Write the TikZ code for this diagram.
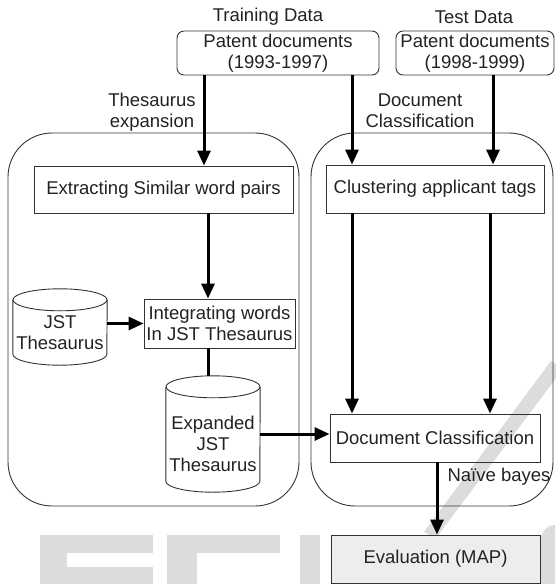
\documentclass[tikz,border=0pt]{standalone}
\usepackage{fontspec}
\setmainfont{Liberation Sans}
\usetikzlibrary{arrows.meta,calc}
\definecolor{ink}{HTML}{222222}
\definecolor{frame}{HTML}{333333}
\definecolor{wmgray}{HTML}{DCDCDC}
\definecolor{evalfill}{HTML}{EDEDED}

% cylinder drawn round an invisible node of the cylinder's size
\newcommand\drum[1]{%
  \draw[thinline] ($(#1.north west)+(0,11)$) -- ($(#1.south west)+(0,-11)$)
    arc[start angle=180,end angle=360,x radius=47pt,y radius=11pt]
    -- ($(#1.north east)+(0,11)$);
  \draw[thinline] ($(#1.north)+(0,11)$) ellipse[x radius=47pt,y radius=11pt];}

\begin{document}
\begin{tikzpicture}[x=1pt,y=-1pt,
  thinline/.style={draw=frame,line width=0.9pt},
  txt/.style={font=\fontsize{18.5}{21}\selectfont,text=ink,align=center,inner sep=0pt},
  box/.style={txt,thinline,minimum height=48pt},
  group/.style={thinline,rounded corners=44pt},
  slot/.style={minimum width=94pt,inner sep=0pt},
  flow/.style={line width=3pt,-{Triangle[length=15pt,width=13pt]}},
  plain/.style={line width=3pt}]
\useasboundingbox (0,0) rectangle (555,584);

% faint background lettering
\fill[wmgray] (40,535) rectangle (153,553);
\fill[wmgray] (40,553) rectangle (67,567);
\fill[wmgray] (40,567) rectangle (153,584);
\fill[wmgray] (167,535) rectangle (280,553);
\fill[wmgray] (167,553) rectangle (197,584);
\fill[wmgray] (300,535) rectangle (320,584);
\fill[wmgray] (541,584) -- (541,540) to[out=90,in=180] (555,525) -- (555,584) -- cycle;
\fill[wmgray] (551,361) -- (563,369) -- (436,538) -- (424,532) -- cycle;

% group outlines
\node[group,minimum width=291pt,minimum height=373pt] (leftgrp) at (153.5,319.5) {};
\node[group,minimum width=242pt,minimum height=373pt] (rightgrp) at (432,319.5) {};

% data sources
\node[txt] (trainlbl) at (268,17) {Training Data};
\node[txt] (testlbl) at (474,17) {Test Data};
\node[box,rounded corners=7pt,minimum width=202pt,minimum height=44pt] (train) at (278,53)
  {Patent documents\\(1993-1997)};
\node[box,rounded corners=7pt,minimum width=158pt,minimum height=44pt] (test) at (475,53)
  {Patent documents\\(1998-1999)};

\node[txt] (thlbl) at (152,112.5) {Thesaurus\\expansion};
\node[txt] (dclbl) at (420,111) {Document\\Classification};

% thesaurus expansion steps
\node[box,minimum width=259pt,minimum height=47pt] (ext) at (163.5,189.5) {Extracting Similar word pairs};
\node[box,minimum width=151pt,minimum height=49pt] (intg) at (219.5,323.5) {Integrating words\\In JST Thesaurus};
\node[slot,minimum height=76pt] (jst) at (60,327) {};
\node[txt] (jsttxt) at (60,333) {JST\\Thesaurus};
\drum{jst}
\node[slot,minimum height=116pt] (exp) at (213,434) {};
\node[txt] (exptxt) at (213,443.5) {Expanded\\JST\\Thesaurus};
\drum{exp}

% classification steps
\node[box,minimum width=218pt] (clus) at (435,189) {Clustering applicant tags};
\node[box,minimum width=210pt] (doc) at (435,438) {Document Classification};
\node[box,minimum width=209pt,fill=evalfill] (eval) at (435.5,559) {Evaluation (MAP)};
\node[txt] (nblbl) at (499,477) {Naïve bayes};

% column positions of the vertical connectors
\coordinate (colA) at (204,0);
\coordinate (colB) at (208,0);
\coordinate (colC) at (352,0);
\coordinate (colD) at (493,0);
\coordinate (colE) at (490,0);
\coordinate (colF) at (437,0);

\draw[flow] (train.south -| colA) -- (ext.north -| colA);
\draw[flow] (train.south -| colC) -- (clus.north -| colC);
\draw[flow] (test.south -| colD) -- (clus.north -| colD);
\draw[flow] (ext.south -| colB) -- (intg.north -| colB);
\draw[flow] (jst.east |- intg.west) -- (intg.west);
\draw[plain] (intg.south -| colB) -- (exp.north -| colB);
\draw[flow] (exp.east) -- (exp.east -| doc.west);
\draw[flow] (clus.south -| colC) -- (doc.north -| colC);
\draw[flow] (clus.south -| colE) -- (doc.north -| colE);
\draw[flow] (doc.south -| colF) -- (eval.north -| colF);
\end{tikzpicture}
\end{document}
